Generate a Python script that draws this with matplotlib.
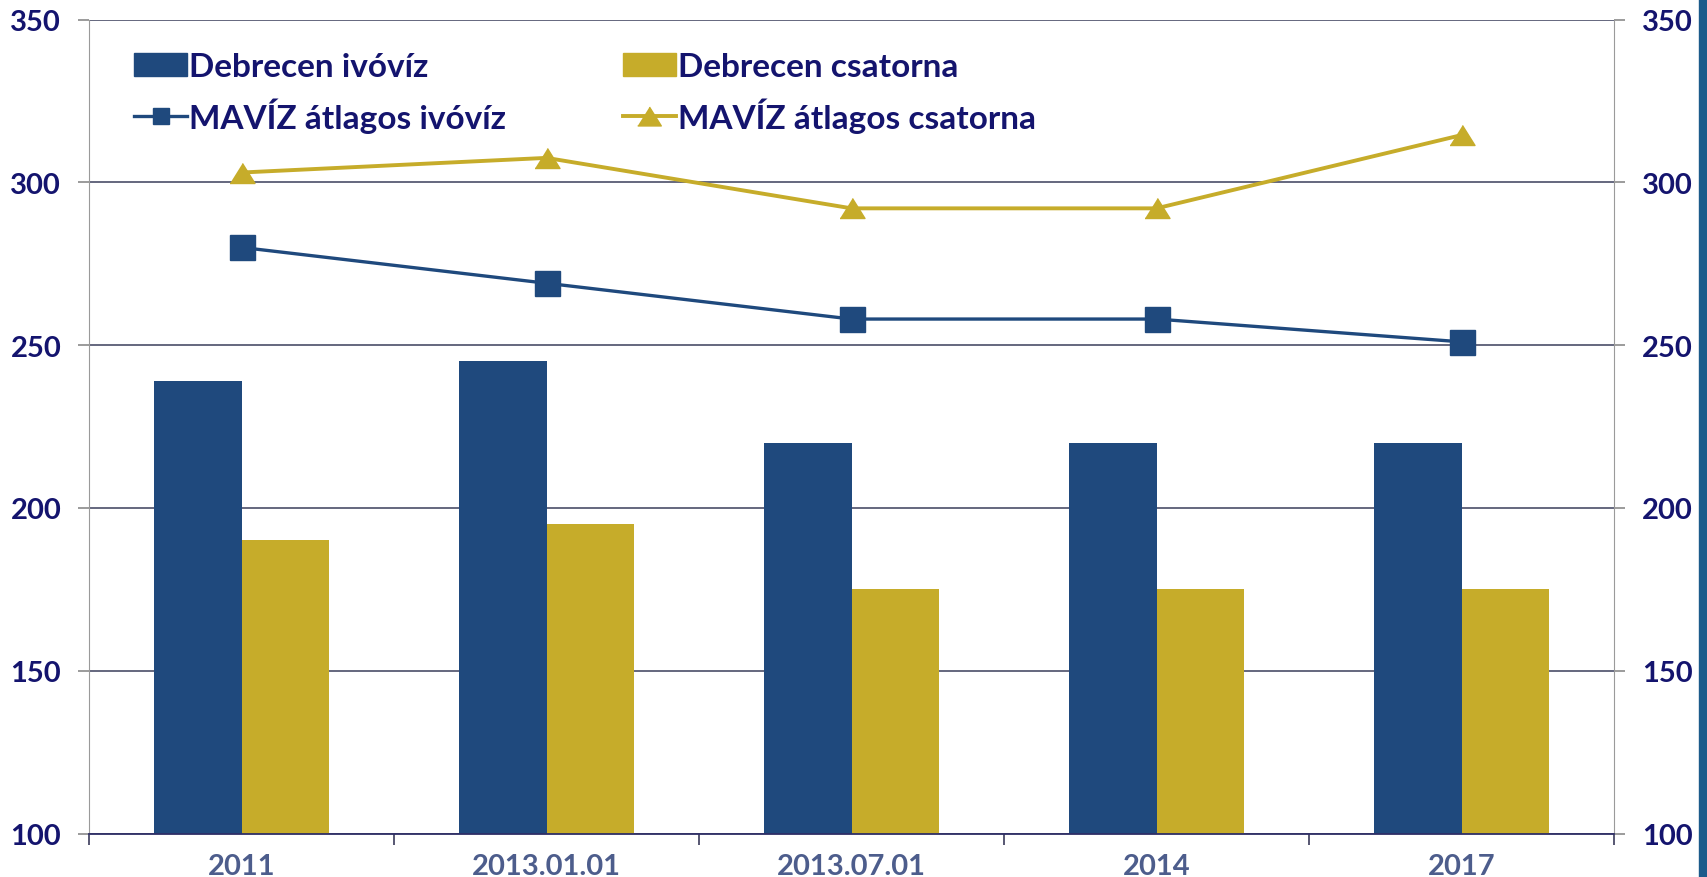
import matplotlib
matplotlib.use('Agg')
import matplotlib.pyplot as plt
from matplotlib.lines import Line2D
from matplotlib.patches import Patch, Rectangle
import numpy as np

plt.rcParams['font.family'] = ['Lato', 'DejaVu Sans']

# data
categories = ['2011', '2013.01.01', '2013.07.01', '2014', '2017']
debrecen_ivoviz = [239, 245, 220, 220, 220]
debrecen_csatorna = [190, 195, 175, 175, 175]
maviz_ivoviz = [280, 269, 258, 258, 251]
maviz_csatorna = [303, 307.5, 292, 292, 314.5]
y_ticks = [100, 150, 200, 250, 300, 350]

labels = ['Debrecen ivóvíz', 'Debrecen csatorna',
          'MAVÍZ átlagos ivóvíz', 'MAVÍZ átlagos csatorna']

blue = '#1f497d'
gold = '#c6ac2a'
navy_txt = '#14146e'
grid_col = '#4a4e68'

fig = plt.figure(figsize=(17.07, 8.78), dpi=100)
ax = fig.add_axes([89 / 1707, 1 - 834.5 / 878, (1614 - 89) / 1707, (834.5 - 20.5) / 878])

x = np.arange(len(categories))
w = 0.2857
ax.bar(x - w / 2, debrecen_ivoviz, width=w, color=blue, zorder=2)
ax.bar(x + w / 2, debrecen_csatorna, width=w, color=gold, zorder=2)

tri = [(-1, -0.8), (1, -0.8), (0, 0.8)]
ax.plot(x, maviz_ivoviz, color=blue, lw=2.4, marker='s', ms=18, zorder=3)
ax.plot(x, maviz_csatorna, color=gold, lw=2.8, marker=tri, ms=18, zorder=3)

ax.set_xlim(-0.5, len(categories) - 0.5)
ax.set_ylim(100, 350)
ax.set_yticks(y_ticks)
ax.set_yticklabels([str(v) for v in y_ticks])
ax.yaxis.grid(True, color=grid_col, lw=1.2, zorder=0)
ax.set_axisbelow(True)

# category boundaries as ticks, names in between
ax.set_xticks(np.arange(-0.5, len(categories), 1.0))
ax.set_xticklabels([])
ax.set_xticks(x, minor=True)
ax.set_xticklabels(categories, minor=True)
ax.tick_params(axis='x', which='major', length=8, width=1.2, color='#3a3a5a')
ax.tick_params(axis='x', which='minor', length=0, pad=14, labelsize=21,
               labelcolor='#4d5d8c')
for t in ax.get_xticklabels(minor=True):
    t.set_fontweight('bold')

ax.tick_params(axis='y', which='both', left=True, right=True, labelleft=True,
               labelright=True, length=8, width=1.2, color='#8a8a8a', pad=12,
               labelsize=21, labelcolor=navy_txt)
for t in ax.get_yticklabels():
    t.set_fontweight('bold')

ax.spines['top'].set_visible(False)
ax.spines['left'].set_color('#9a9a9a')
ax.spines['right'].set_color('#9a9a9a')
ax.spines['bottom'].set_color('#2e2e66')
ax.spines['bottom'].set_linewidth(1.3)

handles = [
    Patch(color=blue),
    Line2D([], [], color=blue, lw=2.4, marker='s', ms=11),
    Patch(color=gold),
    Line2D([], [], color=gold, lw=2.8, marker=tri, ms=17),
]
order = [labels[0], labels[2], labels[1], labels[3]]
leg = ax.legend(handles, order, ncol=2, loc='upper left',
                bbox_to_anchor=(0.0295, 0.960), frameon=False,
                handlelength=1.6, handletextpad=0.05, columnspacing=3.5,
                labelspacing=0.48, borderpad=0, borderaxespad=0,
                prop={'size': 24, 'weight': 'bold'})
for t in leg.get_texts():
    t.set_color(navy_txt)

# dark strip on the right edge
fig.patches.append(Rectangle((1699 / 1707, 0), 8 / 1707, 1, transform=fig.transFigure,
                             color='#1b5b8b', zorder=10))

fig.savefig('out.png', dpi=100)
